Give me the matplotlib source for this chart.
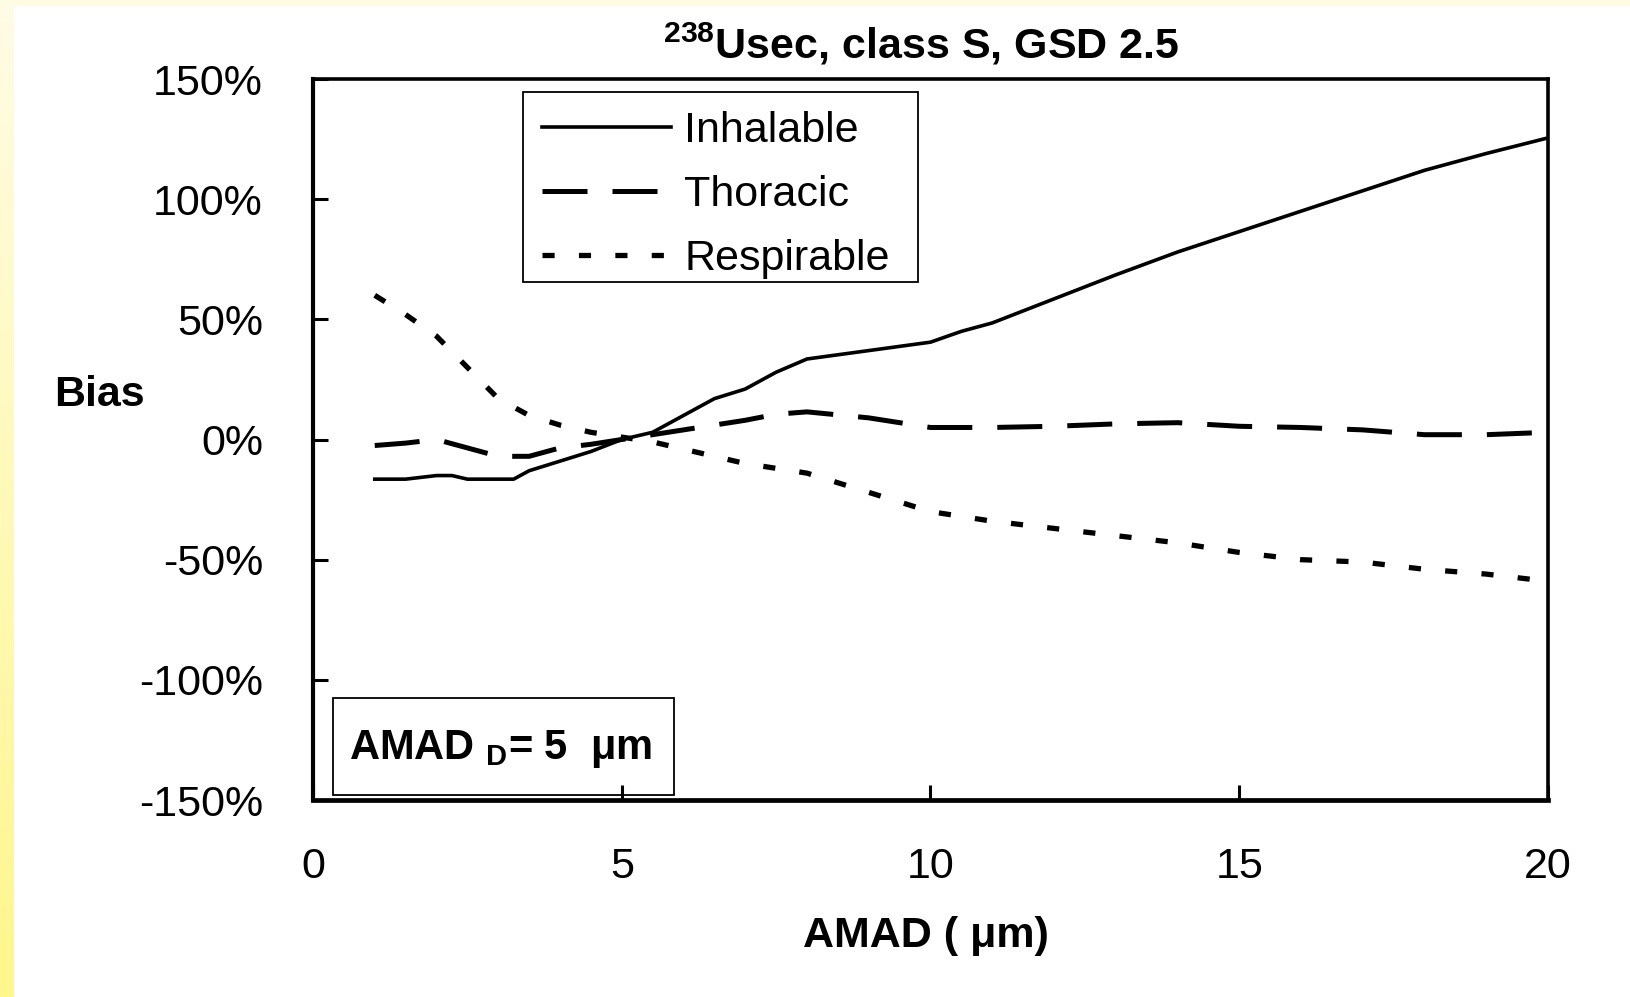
#!/usr/bin/env python3
import numpy as np
import matplotlib
matplotlib.use("Agg")
import matplotlib.pyplot as plt
from matplotlib.patches import Rectangle

plt.rcParams.update({
    'font.family': ['Liberation Sans', 'DejaVu Sans'],
    'mathtext.fontset': 'custom',
    'mathtext.rm': 'Liberation Sans',
    'mathtext.bf': 'Liberation Sans:bold',
})

# AMAD (um) and bias (%)
amad = [1, 1.5, 2, 2.25, 2.5, 3, 3.25, 3.5, 4, 4.5, 5, 5.5, 6, 6.5, 7, 7.5, 8,
        9, 10, 10.5, 11, 12, 13, 14, 15, 16, 17, 18, 19, 20]
inhalable = [-16.5, -16.5, -15, -15, -16.5, -16.5, -16.5, -13, -9, -5, 0, 3, 10,
             17, 21, 28, 33.5, 37, 40.5, 45, 48.5, 58.5, 68.5, 78, 86.5, 95,
             103.5, 112, 119, 125.5]

amad2 = [1, 1.5, 2, 2.5, 3, 3.5, 4, 4.5, 5, 5.5, 6, 6.5, 7, 7.5, 8, 9, 10, 11,
         12, 13, 14, 15, 16, 17, 18, 19, 20]
thoracic = [-2.5, -1.5, 0, -3.5, -7, -7, -3.5, -2, 0, 2, 4, 6, 8, 10.5, 11.5,
            9, 5, 5, 5.5, 6.5, 7, 5.5, 5, 4, 2, 2, 3]
respirable = [60, 52, 43, 30, 17, 10, 6, 3, 1, -1, -4, -7, -10, -12, -14, -22,
              -30, -34, -37, -40, -43, -47, -50, -51, -54, -56, -59]

xticks = [0, 5, 10, 15, 20]
yticks = [-150, -100, -50, 0, 50, 100, 150]

W, H = 1631, 997
fig = plt.figure(figsize=(W / 100, H / 100), dpi=100)
fig.patch.set_facecolor('white')

# yellow slide frame: top strip and left gradient strip
top = fig.add_axes([0, 1 - 6 / H, 1, 6 / H])
top.set_facecolor('#fffbe3')
top.set_xticks([])
top.set_yticks([])
for s in top.spines.values():
    s.set_visible(False)
left = fig.add_axes([0, 0, 14 / W, 1])
grad = np.linspace(0, 1, 256)[:, None]
c0 = np.array([255, 252, 230]) / 255
c1 = np.array([255, 246, 140]) / 255
img = (c0[None, None, :] * (1 - grad[..., None]) + c1[None, None, :] * grad[..., None])
left.imshow(img, aspect='auto', origin='upper', extent=[0, 1, 0, 1])
left.axis('off')

ax = fig.add_axes([313 / W, 1 - 800 / H, 1235 / W, 721 / H])
ax.plot(amad, inhalable, color='black', lw=2.6, label='Inhalable')
ax.plot(amad2, thoracic, color='black', lw=3.6, linestyle=(0, (9, 5)),
        dash_capstyle='butt', label='Thoracic')
ax.plot(amad2, respirable, color='black', lw=3.8, linestyle=(0, (2.3, 4.6)),
        dash_capstyle='butt', label='Respirable')

ax.set_xlim(0, 20)
ax.set_ylim(-150, 150)
ax.set_xticks(xticks)
ax.set_yticks(yticks)
ax.set_yticklabels([f'{v}%' for v in yticks])
ax.tick_params(axis='both', direction='in', length=11, width=2.2, labelsize=31,
               colors='black')
ax.tick_params(axis='x', pad=34)
ax.tick_params(axis='y', pad=36)
for s in ax.spines.values():
    s.set_linewidth(2.6)
ax.spines['bottom'].set_linewidth(3.4)
ax.spines['left'].set_linewidth(3.0)

# legend entries without frame, box drawn separately to match the reference
ax.legend(loc='upper left', bbox_to_anchor=(0.17, 0.982), fontsize=31,
          frameon=False, handlelength=3.0, handletextpad=0.3, labelspacing=0.55,
          borderpad=0.45, borderaxespad=0)
ax.add_patch(Rectangle((0.170, 0.718), 0.320, 0.264, transform=ax.transAxes,
                       fill=False, edgecolor='black', lw=1.3, zorder=5))

ax.add_patch(Rectangle((0.0162, 0.0069), 0.2761, 0.1346, transform=ax.transAxes,
                       fill=False, edgecolor='black', lw=1.3, zorder=5))
ax.text(0.029, 0.0707, r'AMAD $_{\mathbf{D}}$= 5  μm', transform=ax.transAxes,
        fontsize=30, fontweight='bold', va='center', ha='left')

fig.text(921 / W, 1 - 44 / H, r'$^{\mathbf{238}}$Usec, class S, GSD 2.5',
         fontsize=31, fontweight='bold', ha='center', va='center')
fig.text(54 / W, 1 - 395 / H, 'Bias', fontsize=31, fontweight='bold',
         ha='left', va='center')
fig.text(926 / W, 1 - 936 / H, 'AMAD ( μm)', fontsize=31, fontweight='bold',
         ha='center', va='center')

fig.savefig('out.png', dpi=100)
